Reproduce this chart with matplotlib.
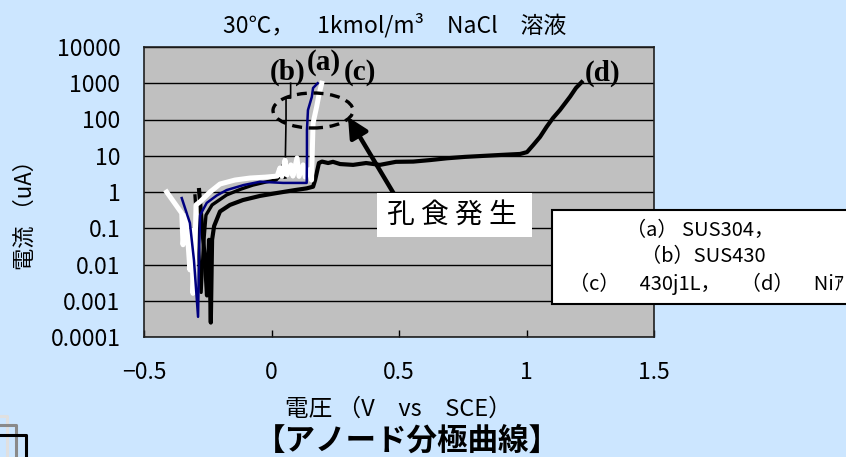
import matplotlib
matplotlib.use("Agg")
import matplotlib.pyplot as plt
from matplotlib.patches import Rectangle, Ellipse, FancyArrowPatch
from matplotlib.lines import Line2D

plt.rcParams['font.family'] = ['Noto Sans CJK JP', 'DejaVu Sans']

# ---------------- data ----------------
# (a) SUS304 - navy
a_v = [-0.352, -0.320, -0.304, -0.288, -0.284, -0.280, -0.254, -0.215, -0.176, -0.110,
       -0.045, 0.045, 0.138, 0.139, 0.139, 0.143, 0.158, 0.163, 0.181]
a_i = [0.68, 0.14, 0.013, 0.00036, 0.02, 0.23, 0.50, 0.80, 1.13, 1.55,
       1.92, 1.78, 1.78, 9.2, 51.0, 182.0, 417.0, 741.0, 1000.0]

# (b) SUS430 - black
b_v = [-0.300, -0.288, -0.276, -0.268, -0.257, -0.233, -0.176, -0.120, -0.073, -0.020,
       0.018, 0.033, 0.045, 0.053, 0.057, 0.057, 0.075, 0.075]
b_i = [0.78, 0.048, 0.0017, 0.025, 0.23, 0.44, 0.83, 1.20, 1.55, 1.90,
       2.14, 2.75, 5.6, 2.57, 98.0, 390.0, 390.0, 1000.0]
b_thick_n = 14   # points drawn with a thick line before the pitting spike

# (c) 430J1L - white
c_v = [-0.411, -0.352, -0.347, -0.335, -0.320, -0.312, -0.308, -0.300, -0.296, -0.280,
       -0.241, -0.202, -0.143, -0.084, -0.025, 0.022, 0.033, 0.041, 0.053, 0.061,
       0.076, 0.084, 0.100, 0.108, 0.124, 0.132, 0.147, 0.157, 0.163, 0.177,
       0.186, 0.197]
c_i = [1.0, 0.26, 0.035, 0.23, 0.0071, 0.089, 0.0016, 0.025, 0.44, 0.54,
       1.0, 1.66, 2.14, 2.43, 2.57, 2.75, 4.6, 2.75, 7.6, 2.95,
       5.6, 2.75, 8.7, 2.7, 5.6, 2.6, 4.1, 2.14, 79.0, 224.0,
       479.0, 1000.0]

# (d) Ni - thick black
d_v = [-0.284, -0.261, -0.253, -0.245, -0.238, -0.233, -0.225, -0.202, -0.163, -0.112,
       -0.045, 0.018, 0.092, 0.138, 0.163, 0.171, 0.177, 0.186, 0.198, 0.222,
       0.241, 0.269, 0.320, 0.371, 0.425, 0.488, 0.556, 0.622, 0.687, 0.758,
       0.818, 0.896, 0.975, 1.002, 1.027, 1.053, 1.079, 1.104, 1.131, 1.171,
       1.194, 1.216]
d_i = [1.13, 0.013, 0.0014, 0.048, 0.00025, 0.048, 0.115, 0.29, 0.44, 0.60,
       0.78, 0.93, 1.13, 1.26, 1.40, 2.14, 3.3, 6.3, 6.9, 6.3,
       6.8, 5.9, 5.6, 6.3, 5.6, 6.8, 6.9, 7.6, 8.5, 9.3,
       9.8, 10.5, 11.2, 12.6, 20.0, 33.0, 63.0, 110.0, 182.0, 427.0,
       741.0, 1070.0]

x_ticks = [-0.5, 0, 0.5, 1, 1.5]
x_labels = ['−0.5', '0', '0.5', '1', '1.5']
y_ticks = [10000, 1000, 100, 10, 1, 0.1, 0.01, 0.001, 0.0001]
y_labels = ['10000', '1000', '100', '10', '1', '0.1', '0.01', '0.001', '0.0001']

title = '30℃，　1kmol/m³　NaCl　溶液'
x_title = '電圧 （V　vs　SCE）'
y_title = '電流 （uA）'
bottom_title = '【アノード分極曲線】'
legend_lines = ['（a） SUS304，', '（b）SUS430', '（c）　430j1L，　（d）　Niｱ']

# ---------------- figure ----------------
W, H = 846, 457
BG = '#CCE6FF'
fig = plt.figure(figsize=(W / 100, H / 100), dpi=100, facecolor=BG)

def fx(px):
    return px / W

def fy(py):
    return 1 - py / H

ax = fig.add_axes([fx(144), fy(337), fx(654) - fx(144), fy(47) - fy(337)])
ax.set_facecolor('#C0C0C0')
ax.set_yscale('log')
ax.set_xlim(-0.5, 1.5)
ax.set_ylim(0.0001, 10000)

ax.set_xticks(x_ticks)
ax.set_xticklabels(x_labels)
ax.set_yticks(y_ticks)
ax.set_yticklabels(y_labels)
ax.minorticks_off()
ax.tick_params(axis='x', direction='in', length=5, width=1, pad=17, labelsize=16.5)
ax.tick_params(axis='y', direction='in', length=0, pad=17, labelsize=16.5)
ax.yaxis.grid(True, color='black', linewidth=1.0)
ax.set_axisbelow(True)
for s in ax.spines.values():
    s.set_color('#202020')
    s.set_linewidth(1.2)

# curves
ax.plot(d_v, d_i, color='black', lw=3.0, solid_joinstyle='round', zorder=3)
ax.plot(b_v[:b_thick_n], b_i[:b_thick_n], color='black', lw=2.4, zorder=3.2)
ax.plot(b_v[b_thick_n - 1:], b_i[b_thick_n - 1:], color='black', lw=1.2, zorder=3.2)
ax.plot(c_v, c_i, color='white', lw=3.6, zorder=3.4)
ax.plot(a_v, a_i, color='#000080', lw=1.8, zorder=3.6)

# texts
fig.text(fx(395), fy(25), title, ha='center', va='center', fontsize=16.5)
fig.text(fx(398), fy(409), x_title, ha='center', va='center', fontsize=17)
fig.text(fx(25), fy(210), y_title, ha='center', va='center', rotation=90, fontsize=16)
fig.text(fx(407), fy(441), bottom_title, ha='center', va='center', fontsize=22,
         fontweight='bold')

# curve labels
lab_kw = dict(ha='center', va='center', fontsize=21, fontweight='bold',
              family=['Liberation Serif', 'DejaVu Serif'])
fig.text(fx(288), fy(72), '(b)', **lab_kw)
fig.text(fx(324), fy(63), '(a)', **lab_kw)
fig.text(fx(360), fy(72), '(c)', **lab_kw)
fig.text(fx(603), fy(73), '(d)', **lab_kw)

# dashed ellipse
ell = Ellipse((fx(313), fy(110.5)), fx(80), 35 / H, transform=fig.transFigure,
              fill=False, edgecolor='black', lw=2.4, linestyle=(0, (3, 2)))
fig.add_artist(ell)

# arrow
arr = FancyArrowPatch((fx(394), fy(194)), (fx(348), fy(117)), transform=fig.transFigure,
                      arrowstyle='-|>,head_length=12,head_width=6', color='black',
                      lw=3.2, mutation_scale=1, shrinkA=0, shrinkB=0)
fig.add_artist(arr)

# 孔食発生 box
fig.add_artist(Rectangle((fx(377), fy(237)), fx(532) - fx(377), fy(193) - fy(237),
                         transform=fig.transFigure, facecolor='white', edgecolor='none'))
fig.text(fx(452), fy(215), '孔 食 発 生', ha='center', va='center', fontsize=20)

# legend box
fig.add_artist(Rectangle((fx(552), fy(304)), fx(870) - fx(552), fy(210) - fy(304),
                         transform=fig.transFigure, facecolor='white', edgecolor='black',
                         lw=1.5))
for txt, py, px in zip(legend_lines, [230, 257, 284], [700, 703, 706]):
    fig.text(fx(px), fy(py), txt, ha='center', va='center', fontsize=14.5)

# bottom-left decorative corners
for col, off in [('#E0E0E0', 7), ('#8A8A8A', 16), ('black', 26)]:
    top = 409 + off
    fig.add_artist(Line2D([0, fx(off), fx(off)], [fy(top), fy(top), 0],
                          transform=fig.transFigure, color=col, lw=2.2))

fig.savefig('out.png', dpi=100, facecolor=BG)
